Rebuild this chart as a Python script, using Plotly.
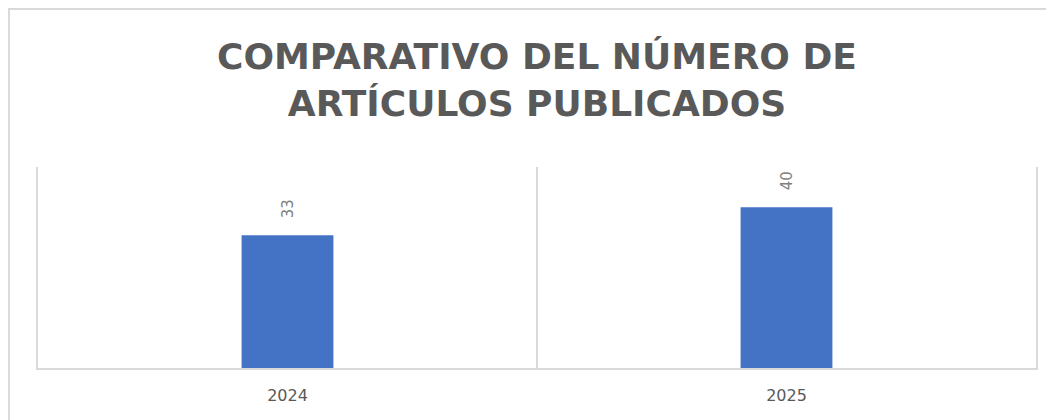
import plotly.graph_objects as go

categories = ["2024", "2025"]
values = [33, 40]
title_lines = ["COMPARATIVO DEL NÚMERO DE", "ARTÍCULOS PUBLICADOS"]

BAR_COLOR = "#4472C4"
GRID = "#d9d9d9"

# The page puts the figure at an 8px offset; size it to fill the rest of the 1054x420 view.
W, H = 1046, 412

fig = go.Figure()
fig.add_trace(go.Bar(
    x=categories, y=values, width=0.184,
    marker=dict(color=BAR_COLOR, line=dict(width=0)),
    hoverinfo="x+y", showlegend=False,
))

for i, v in enumerate(values):
    fig.add_annotation(
        x=i, y=v, xref="x", yref="y", text=str(v), textangle=-90,
        showarrow=False, yanchor="bottom", xanchor="center", yshift=15,
        font=dict(family="DejaVu Sans", size=15, color="#7f7f7f"),
    )

fig.update_layout(
    width=W, height=H,
    margin=dict(l=30, r=18, t=159, b=52),
    paper_bgcolor="white", plot_bgcolor="white",
    title=dict(
        text="<br>".join(title_lines),
        x=0.5, xref="paper", xanchor="center",
        y=1 - 61 / H, yref="container", yanchor="top",
        font=dict(family="DejaVu Sans", size=36, color="#595959", weight="bold"),
    ),
    xaxis=dict(
        type="category", range=[-0.5, 1.5], tickson="boundaries",
        showgrid=True, gridcolor=GRID, gridwidth=2,
        showline=True, linecolor=GRID, linewidth=2,
        ticks="", ticklabelstandoff=12,
        tickfont=dict(family="DejaVu Sans", size=16, color="#595959"),
        zeroline=False, fixedrange=True,
    ),
    yaxis=dict(range=[0, 50], showticklabels=False, ticks="", showgrid=False,
               zeroline=False, fixedrange=True,
               showline=True, mirror=True, linecolor=GRID, linewidth=2),
    shapes=[
        dict(type="line", xref="paper", yref="paper", x0=-0.03, x1=1.1,
             y0=1.786, y1=1.786, line=dict(color=GRID, width=2)),
        dict(type="line", xref="paper", yref="paper", x0=-0.029, x1=-0.029,
             y0=1.79, y1=-0.5, line=dict(color=GRID, width=2)),
    ],
)

fig.write_html("out.html")
